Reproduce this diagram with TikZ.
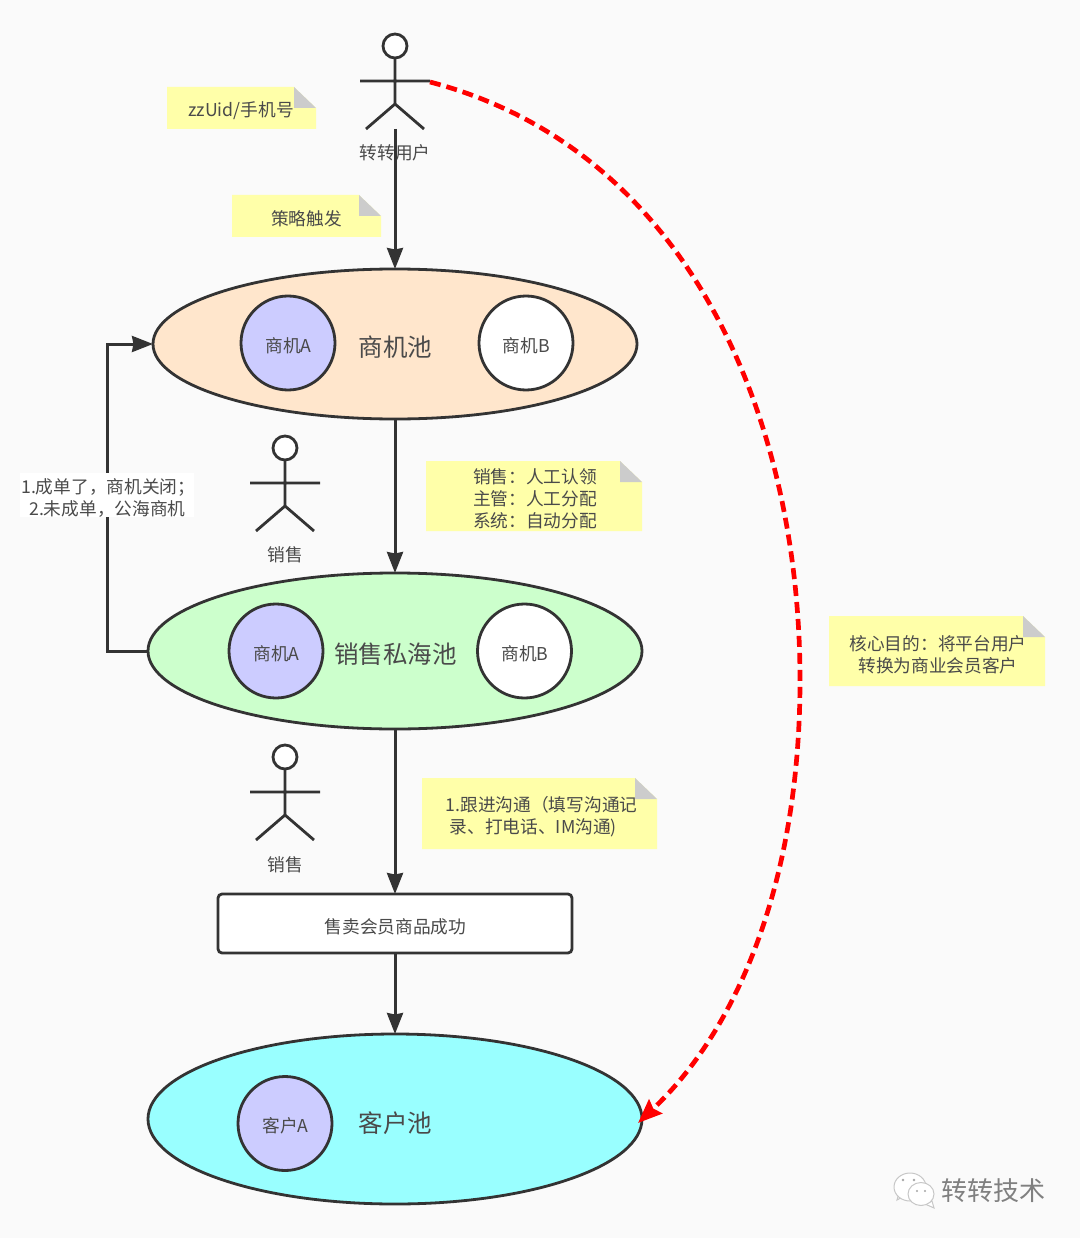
\documentclass[tikz,border=0pt]{standalone}
\usepackage{fontspec}
\setmainfont{Noto Sans CJK SC}
\usetikzlibrary{arrows.meta,shapes.geometric,calc}
\definecolor{ink}{HTML}{333333}
\definecolor{txt}{HTML}{4A4A4A}
\definecolor{bgc}{HTML}{FAFAFA}
\definecolor{notey}{HTML}{FFFFA9}
\definecolor{foldc}{HTML}{CCCCCC}
\definecolor{peach}{HTML}{FFE6CC}
\definecolor{mint}{HTML}{CCFFCC}
\definecolor{aqua}{HTML}{99FFFF}
\definecolor{lilac}{HTML}{CCCCFF}
\newcommand{\fs}[2]{\fontsize{#1}{#2}\selectfont}
\tikzset{
  x=1pt,y=-1pt,
  flow/.style={draw=ink,line width=3pt,-{Stealth[length=21pt,width=16pt,inset=1.5pt]}},
  pool/.style={ellipse,draw=ink,line width=2.8pt,inner sep=0pt,outer sep=0pt},
  biz/.style={circle,draw=ink,line width=2.8pt,minimum size=94pt,inner sep=0pt,outer sep=0pt,fill=#1},
  biz/.default=white,
  label text/.style={text=txt,font=\fs{17.7}{22},align=center,inner sep=0pt},
  pool text/.style={text=txt,font=\fs{24.5}{30},inner sep=0pt},
  actor/.pic={
    \draw[ink,line width=2.8pt,fill=white] (0,0) circle (12);
    \draw[ink,line width=2.8pt] (0,12) -- (0,58) (-35,35) -- (35,35) (-29,83) -- (0,58) -- (29,83);
  },
  note/.pic={
    \fill[notey] (0,0) -- (\nw-22,0) -- (\nw,21) -- (\nw,\nh) -- (0,\nh) -- cycle;
    \fill[foldc] (\nw-22,0) -- (\nw,21) -- (\nw-22,21) -- cycle;
  },
}
\begin{document}
\begin{tikzpicture}
\useasboundingbox[fill=bgc] (0,0) rectangle (1080,1238);

% sticky notes
\def\nw{149}\def\nh{42}
\pic at (167,87) {note};
\pic at (232,195) {note};
\def\nw{216}\def\nh{70}
\pic at (426,461) {note};
\pic at (829,616) {note};
\def\nw{235}\def\nh{71}
\pic at (422,778) {note};
\node[label text] (n1) at (241,111) {zzUid/手机号};
\node[label text] (n2) at (306.5,219) {策略触发};
\node[label text] (n3) at (535,499) {销售：人工认领\\主管：人工分配\\系统：自动分配};
\node[label text,align=left,anchor=west] (n4) at (445.5,817) {1.跟进沟通（填写沟通记\\\hspace*{4pt}录、打电话、IM沟通)};
\node[label text] (n5) at (938,655) {核心目的：将平台用户\\转换为商业会员客户};

% pools
\node[pool,fill=peach,minimum width=484pt,minimum height=150pt] (pool1) at (395,344) {};
\node[pool,fill=mint,minimum width=494pt,minimum height=156pt] (pool2) at (395,651) {};
\node[pool,fill=aqua,minimum width=494pt,minimum height=170pt] (pool3) at (395,1119) {};
\node[pool text] (t1) at (395.5,347.5) {商机池};
\node[pool text] (t2) at (395.5,654.5) {销售私海池};
\node[pool text] (t3) at (395.5,1123) {客户池};

% business circles
\node[biz=lilac] (a1) at (288,343) {};
\node[biz] (b1) at (526,343) {};
\node[biz=lilac] (a2) at (276,651) {};
\node[biz] (b2) at (524.5,651) {};
\node[biz=lilac] (c1) at (285,1123.5) {};
\node[label text] (ta1) at (288.5,346) {商机A};
\node[label text] (tb1) at (526.5,346) {商机B};
\node[label text] (ta2) at (276.5,654) {商机A};
\node[label text] (tb2) at (525,654) {商机B};
\node[label text] (tc1) at (285.5,1125.5) {客户A};

% actors
\pic at (395,46) {actor};
\pic at (285,448) {actor};
\pic at (285,757) {actor};
\coordinate (userfoot) at (395,129);
\coordinate (userhand) at (430,82);
\node[label text] (l1) at (395,153) {转转用户};
\node[label text] (l2) at (285,555) {销售};
\node[label text] (l3) at (285,865) {销售};

% box
\node[draw=ink,line width=2.8pt,fill=white,rounded corners=4pt,minimum width=354pt,minimum height=59pt,inner sep=0pt,outer sep=0pt] (sold) at (395,923.5) {};
\node[label text] (ts) at (395.5,926.5) {售卖会员商品成功};

% connectors
\draw[flow] (userfoot) -- (pool1.north);
\draw[flow] (pool1.south) -- (pool2.north);
\draw[flow] (pool2.south) -- (sold.north);
\draw[flow] (sold.south) -- (pool3.north);
\draw[flow] (pool2.west) -- ++(-41,0) |- (pool1.west);
\fill[white] (20,473) rectangle (194,516.5);
\node[label text,align=left,anchor=west] (loop) at (21,498) {1.成单了，商机关闭；\\\hspace*{8pt}2.未成单，公海商机};

% dashed red curve
\draw[red,line width=4.7pt,dash pattern=on 11pt off 6pt,-{Stealth[length=24pt,width=19pt,inset=3pt]}]
  (userhand) .. controls (690,150) and (800,420) .. (800,680)
  .. controls (800,880) and (738,1029) .. ($(pool3.east)+(-4,4)$);

% watermark
\begin{scope}[draw=black!22,fill=white,line width=1pt]
  \filldraw (900,1190) -- (897,1200) -- (906,1195) -- cycle;
  \filldraw (910,1187) ellipse (16 and 14);
  \filldraw (932,1201) -- (934,1208) -- (925,1204) -- cycle;
  \filldraw (921,1194) ellipse (13 and 11.5);
\end{scope}
\fill[black!35] (903,1180) circle (1.4) (914,1180) circle (1.4) (917,1191) circle (1.2) (925,1191) circle (1.2);
\node[text=black!50,font=\fs{26}{30},inner sep=0pt] (wm) at (993,1191) {转转技术};
\end{tikzpicture}
\end{document}
